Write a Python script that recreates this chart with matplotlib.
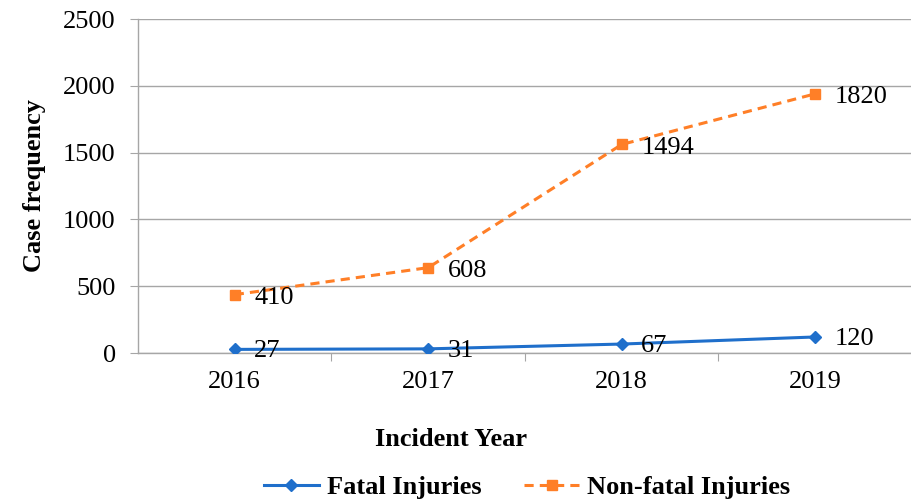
import numpy as np
import matplotlib
matplotlib.use("Agg")
import matplotlib.pyplot as plt

plt.rcParams["font.family"] = ["Liberation Serif", "DejaVu Serif"]

years = ["2016", "2017", "2018", "2019"]
fatal = [27, 31, 67, 120]
non_fatal = [410, 608, 1494, 1820]

blue = "#1f6fcb"
orange = "#ff7f27"
grid_c = "#a6a6a6"

fig = plt.figure(figsize=(9.12, 5.0), dpi=100)
ax = fig.add_axes([138 / 912, 1 - 353 / 500, (912 - 138) / 912, 334 / 500])

x = np.arange(len(years))
# stacked line chart: the second series sits on top of the first
stacked = np.array(fatal) + np.array(non_fatal)

ax.plot(x, fatal, color=blue, lw=2.2, marker="D", ms=6, label="Fatal Injuries", zorder=3)
ax.plot(x, stacked, color=orange, lw=2.2, ls=(0, (3, 2)), marker="s", ms=7,
        label="Non-fatal Injuries", zorder=3)

for xi, yi, v in zip(x, fatal, fatal):
    ax.annotate(str(v), (xi, yi), xytext=(14, -1.5), textcoords="offset points",
                ha="left", va="center", fontsize=19)
for xi, yi, v in zip(x, stacked, non_fatal):
    ax.annotate(str(v), (xi, yi), xytext=(14, -2.5), textcoords="offset points",
                ha="left", va="center", fontsize=19)

ax.set_xlim(-0.5, 3.5)
ax.set_ylim(0, 2500)
ax.set_yticks(np.arange(0, 2501, 500))
ax.yaxis.grid(True, color=grid_c, lw=1)
ax.set_axisbelow(True)

ax.set_xticks([0.5, 1.5, 2.5])
ax.set_xticklabels([])
ax.set_xticks(x, minor=True)
ax.set_xticklabels(years, minor=True)
ax.tick_params(axis="x", which="major", length=6, color=grid_c, direction="out")
ax.tick_params(axis="x", which="minor", length=0, pad=13, labelsize=19)
ax.tick_params(axis="y", length=6, color=grid_c, labelsize=19, pad=10)

for s in ["top", "right"]:
    ax.spines[s].set_visible(False)
for s in ["left", "bottom"]:
    ax.spines[s].set_color(grid_c)
    ax.spines[s].set_linewidth(1)

ax.set_ylabel("Case frequency", fontsize=19, fontweight="bold", labelpad=12)
fig.text(451 / 912, 1 - 440 / 500, "Incident Year", ha="center", va="center",
         fontsize=19, fontweight="bold")

leg = fig.legend(loc="center", bbox_to_anchor=(527 / 912, 1 - 487 / 500), ncol=2,
                 frameon=False, prop={"size": 19, "weight": "bold"},
                 handlelength=2.1, columnspacing=1.6, handletextpad=0.3)

fig.savefig("out.png", dpi=100)
